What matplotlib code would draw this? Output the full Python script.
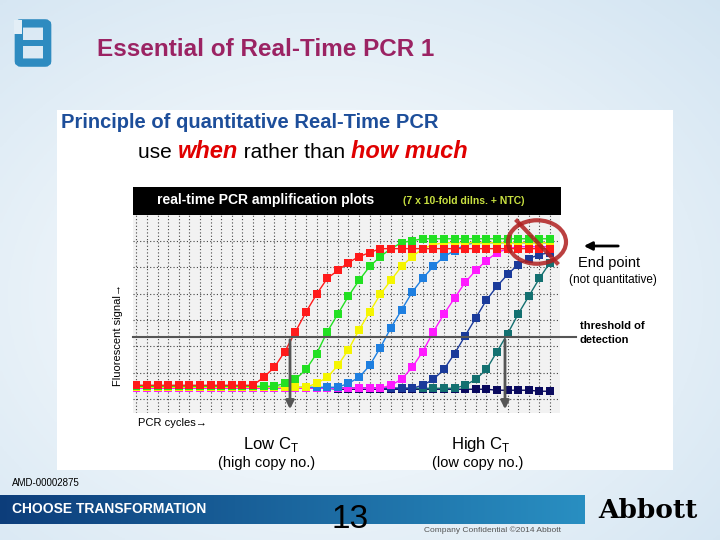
import numpy as np
import matplotlib
matplotlib.use("Agg")
import matplotlib.pyplot as plt
from matplotlib.patches import Rectangle, FancyBboxPatch, Circle, FancyArrowPatch
from matplotlib.lines import Line2D

cycles = list(range(1, 41))
red = [14]*12 + [18,23,31,41,51,60,68,72,76,79,81,83] + [83]*16
green = [13.5]*14 + [15,17,22,30,41,50,59,67,74,79,83,86,87] + [88]*13
yellow = [13]*17 + [15,18,24,32,42,51,60,67,74,79,83,85] + [86]*11
lightblue = [13]*20 + [15,18,24,33,43,52,61,68,74,79,82,85] + [86]*8
magenta = [12.5]*24 + [14,17,23,31,41,50,58,66,72,77,81,83] + [84]*4
darkblue = [12.5]*27 + [14,17,22,30,39,48,57,64,70,75,78,80,81]
teal = [12.5]*31 + [14,17,22,31,40,50,59,68,76]
ntc = [13]*11 + [12.5]*8 + [12]*15 + [11.5]*4 + [11]*2
series = [("NTC", ntc, "#0A0A5E"), ("1", teal, "#137070"), ("2", darkblue, "#1A3A9A"),
          ("3", magenta, "#FF1AFF"), ("4", lightblue, "#1E7FE0"), ("5", yellow, "#F5F500"),
          ("6", green, "#22E022"), ("7", red, "#FF1A1A")]

W, H = 720, 540
fig = plt.figure(figsize=(7.2, 5.4), dpi=100)
TF = fig.transFigure

def fx(x): return x / W
def fy(y): return 1 - y / H
def addp(p, z=5):
    p.set_zorder(z); fig.add_artist(p); return p

# background gradient
bg = fig.add_axes([0, 0, 1, 1], zorder=-5); bg.axis("off")
yy, xx = np.mgrid[0:1:200j, 0:1:200j]
d = np.clip(np.sqrt(((xx-0.45)/0.9)**2 + ((yy-0.55)/0.9)**2), 0, 1)
c0 = np.array([1, 1, 1]); c1 = np.array([0.80, 0.88, 0.94])
img = c0[None, None, :]*(1-d[..., None]) + c1[None, None, :]*d[..., None]
bg.imshow(img, extent=[0, 1, 0, 1], aspect="auto")
bg.set_xlim(0, 1); bg.set_ylim(0, 1)

# logo
blue = "#2E8BC0"
addp(FancyBboxPatch((fx(21), fy(61)), fx(24), 36/H, boxstyle="round,pad=0.003",
                    transform=TF, fc="none", ec=blue, lw=6))
addp(Rectangle((fx(14), fy(34)), fx(8), 14/H, transform=TF, fc="#E3EEF6", ec="none"), 6)
addp(Rectangle((fx(20), fy(46)), fx(26), 6/H, transform=TF, fc=blue, ec="none"), 6)
fig.text(fx(97), fy(50), "Essential of Real-Time PCR 1", color="#9B2363", fontsize=17.5,
         fontweight="bold", va="center", family="Liberation Sans")

# white panel
addp(Rectangle((fx(57), fy(470)), fx(616), 360/H, transform=TF, fc="white", ec="none"), 1)
fig.text(fx(61), fy(123), "Principle of quantitative Real-Time PCR", color="#1D4E9A", fontsize=14.5,
         fontweight="bold", va="center", family="Liberation Sans")
t1 = fig.text(fx(138), fy(152), "use ", fontsize=15, va="center", family="Liberation Sans")
fig.canvas.draw()
def after(t, s, **kw):
    bb = t.get_window_extent()
    return fig.text(bb.x1/W, t.get_position()[1], s, va="center", family="Liberation Sans", **kw)
t2 = after(t1, "when", fontsize=17, color="#E00000", fontweight="bold", style="italic")
fig.canvas.draw()
t3 = after(t2, " rather than ", fontsize=15)
fig.canvas.draw()
after(t3, "how much", fontsize=17, color="#E00000", fontweight="bold", style="italic")

# header bar
addp(Rectangle((fx(133), fy(215)), fx(428), 28/H, transform=TF, fc="black", ec="none"), 2)
fig.text(fx(157), fy(200), "real-time PCR amplification plots", color="white", fontsize=10,
         fontweight="bold", va="center", family="Liberation Sans")
fig.text(fx(403), fy(201), "(7 x 10-fold dilns. + NTC)", color="#C8E040", fontsize=7.5,
         fontweight="bold", va="center", family="Liberation Sans")

ax = fig.add_axes([fx(133), fy(413), fx(427), 198/H], zorder=3)
ax.set_facecolor("#F2F2F2")
for lbl, vals, col in series:
    ax.plot(cycles, vals, "-s", color=col, lw=1, ms=6, markeredgewidth=0)
ax.set_xlim(0.69, 40.94); ax.set_ylim(0, 100)
ax.set_xticks(np.arange(1, 41)); ax.set_yticks(np.arange(7, 100, 13.3))
ax.grid(True, color="#444444", ls=(0, (1, 2)), lw=0.8)
ax.tick_params(length=0, labelbottom=False, labelleft=False)
for s in ax.spines.values(): s.set_visible(False)

# threshold line and arrows
addp(Line2D([fx(133), fx(576)], [fy(337), fy(337)], transform=TF, color="#555555", lw=1.5), 10)
for x in (290, 505):
    addp(FancyArrowPatch((fx(x), fy(337)), (fx(x), fy(412)), transform=TF,
                         arrowstyle="-|>", mutation_scale=12, color="#555555", lw=2), 10)
fig.text(fx(118), fy(335), "Fluorescent signal→", rotation=90, fontsize=8, va="center", ha="center",
         family="Liberation Sans")
fig.text(fx(138), fy(423), "PCR cycles→", fontsize=8, va="center", family="Liberation Sans")
fig.text(fx(243), fy(445), "Low C$_\\mathregular{T}$", fontsize=12, va="center", family="Liberation Sans")
fig.text(fx(218), fy(463), "(high copy no.)", fontsize=10.5, va="center", family="Liberation Sans")
fig.text(fx(451), fy(445), "High C$_\\mathregular{T}$", fontsize=12, va="center", family="Liberation Sans")
fig.text(fx(432), fy(463), "(low copy no.)", fontsize=10.5, va="center", family="Liberation Sans")

# end point
addp(Circle((fx(537), fy(242)), 29/W, transform=TF, fc="none", ec="#B02020", lw=3, alpha=0.85), 10)
addp(Line2D([fx(517), fx(557)], [fy(221), fy(263)], transform=TF, color="#B02020", lw=3, alpha=0.85), 10)
addp(FancyArrowPatch((fx(621), fy(246)), (fx(581), fy(246)), transform=TF,
                     arrowstyle="-|>", mutation_scale=12, color="black", lw=2), 10)
fig.text(fx(578), fy(263), "End point", fontsize=10.5, va="center", family="Liberation Sans")
fig.text(fx(569), fy(280), "(not quantitative)", fontsize=8.5, va="center", family="Liberation Sans")
fig.text(fx(580), fy(333), "threshold of\ndetection", fontsize=8, fontweight="bold", va="center",
         family="Liberation Sans", linespacing=1.4)

# footer
fig.text(fx(12), fy(483), "AMD-00002875", fontsize=7, va="center", family="Liberation Sans")
gax = fig.add_axes([0, fy(524), fx(585), 29/H], zorder=2); gax.axis("off")
grad = np.linspace(0, 1, 256)[None, :, None]
ca = np.array([0.05, 0.24, 0.48]); cb = np.array([0.16, 0.56, 0.76])
gax.imshow(ca*(1-grad) + cb*grad, aspect="auto", extent=[0, 1, 0, 1])
fig.text(fx(12), fy(509), "CHOOSE TRANSFORMATION", color="white", fontsize=10, fontweight="bold",
         va="center", family="Liberation Sans", zorder=10)
fig.text(fx(350), fy(520), "13", fontsize=24, va="center", ha="center", family="Liberation Sans", zorder=10)
fig.text(fx(424), fy(530), "Company Confidential ©2014 Abbott", fontsize=6, color="#555555",
         va="center", family="Liberation Sans", zorder=10)
fig.text(fx(648), fy(510), "Abbott", fontsize=19, fontweight="bold", va="center", ha="center",
         family="DejaVu Serif")

fig.savefig("out.png", dpi=100)
